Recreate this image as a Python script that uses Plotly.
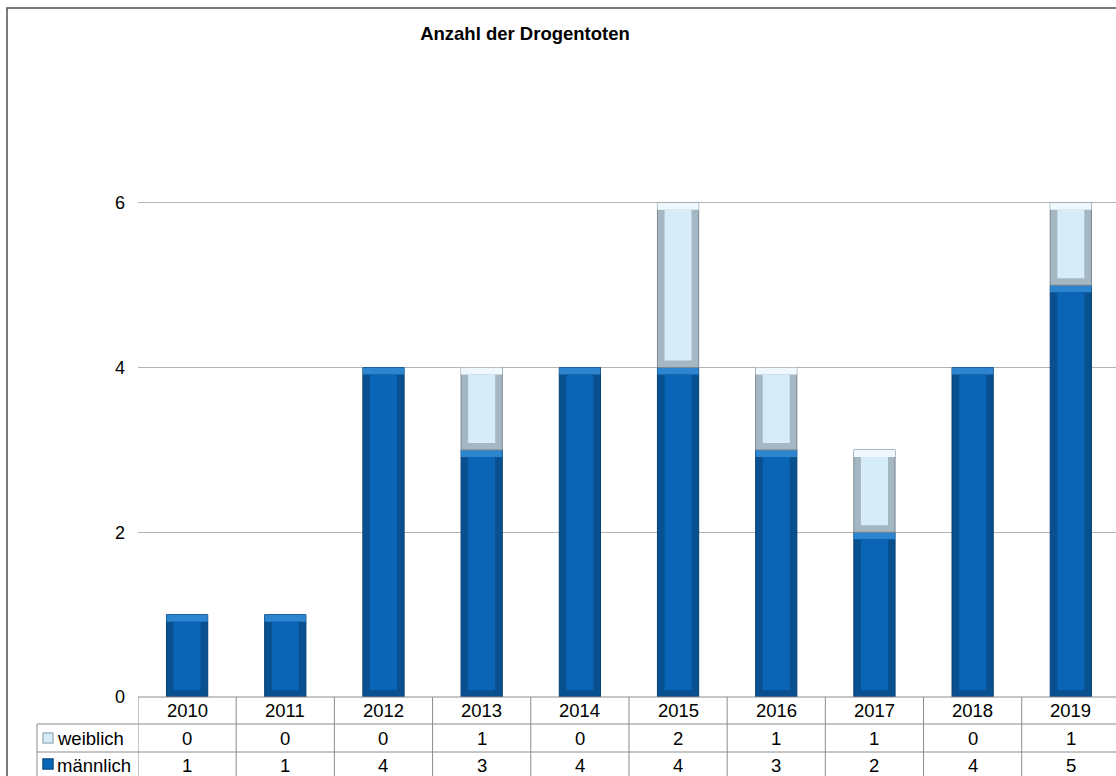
import plotly.graph_objects as go

years = [2010, 2011, 2012, 2013, 2014, 2015, 2016, 2017, 2018, 2019]
weiblich = [0, 0, 0, 1, 0, 2, 1, 1, 0, 1]
maennlich = [1, 1, 4, 3, 4, 4, 3, 2, 4, 5]
title = "Anzahl der Drogentoten"
series_names = ["weiblich", "männlich"]

W, H = 1116, 776
MB = 10              # bottom margin (paper area height = H - MB)
PH = H - MB
FONT = "Liberation Sans, Arial, sans-serif"

def px(xp):
    return xp / W

def py(yp):
    return 1 - yp / PH

BAR_W = 0.42
INNER_W = 0.275
BEV = 0.085

M_SHADE, M_HI, M_FACE = "#08508f", "#2d84cf", "#0b65b6"
F_SHADE, F_HI, F_FACE = "#a5b7c3", "#eef8fd", "#d6ecf9"

fig = go.Figure()

top_m = maennlich
top_f = [m + f for m, f in zip(maennlich, weiblich)]

def bar(y, base, width, color, line=None):
    return go.Bar(x=years, y=y, base=base, width=width,
                  marker=dict(color=color, line=line or dict(width=0)),
                  hoverinfo="skip", showlegend=False)

# männlich: shade frame, top highlight, face
fig.add_trace(bar(maennlich, [0] * len(years), BAR_W, M_SHADE, dict(color="#073f73", width=1)))
fig.add_trace(bar([BEV] * len(years), [t - BEV for t in top_m], BAR_W, M_HI))
fig.add_trace(bar([m - 2 * BEV for m in maennlich], [BEV] * len(years), INNER_W, M_FACE))

# weiblich (only where > 0)
fm = [f if f > 0 else None for f in weiblich]
fig.add_trace(bar(fm, maennlich, BAR_W, F_SHADE, dict(color="#7a8790", width=1)))
fig.add_trace(bar([BEV if f > 0 else None for f in weiblich],
                  [t - BEV for t in top_f], BAR_W, F_HI))
fig.add_trace(bar([f - 2 * BEV if f > 0 else None for f in weiblich],
                  [m + BEV for m in maennlich], INNER_W, F_FACE))

# ---- data table (drawn with shapes + annotations) ----
LINE = dict(color="#8c8c8c", width=1)
T_TOP, R1, R2, T_BOT = 697, 724, 752, 800
TAB_L, PLOT_L = 37, 138

shapes = []
shapes.append(dict(type="line", xref="paper", yref="paper", x0=px(PLOT_L), x1=1,
                   y0=py(T_TOP), y1=py(T_TOP), line=LINE))
for yy in (R1, R2):
    shapes.append(dict(type="line", xref="paper", yref="paper", x0=px(TAB_L), x1=1,
                       y0=py(yy), y1=py(yy), line=LINE))
shapes.append(dict(type="line", xref="paper", yref="paper", x0=px(TAB_L), x1=px(TAB_L),
                   y0=py(R1), y1=py(T_BOT), line=LINE))
for yr in years:
    shapes.append(dict(type="line", xref="x", yref="paper", x0=yr - 0.5, x1=yr - 0.5,
                       y0=py(T_TOP), y1=py(T_BOT), line=LINE))
for (y0, y1, c, e) in [(733, 743, F_FACE, F_SHADE), (759, 769, M_FACE, M_SHADE)]:
    shapes.append(dict(type="rect", xref="paper", yref="paper", x0=px(43), x1=px(53),
                       y0=py(y1), y1=py(y0), fillcolor=c, line=dict(color=e, width=1.5)))
shapes.append(dict(type="rect", xref="paper", yref="paper", x0=px(7), x1=1.05,
                   y0=-0.1, y1=py(8), line=dict(color="#505050", width=1.5),
                   fillcolor="rgba(0,0,0,0)", layer="above"))

annotations = []
TF = dict(family=FONT, size=18.5, color="black")
for i, yr in enumerate(years):
    annotations.append(dict(x=yr, y=py(710.5), xref="x", yref="paper", text=str(yr),
                            showarrow=False, font=TF, xanchor="center", yanchor="middle"))
    annotations.append(dict(x=yr, y=py(738), xref="x", yref="paper", text=str(weiblich[i]),
                            showarrow=False, font=TF, xanchor="center", yanchor="middle"))
    annotations.append(dict(x=yr, y=py(765), xref="x", yref="paper", text=str(maennlich[i]),
                            showarrow=False, font=TF, xanchor="center", yanchor="middle"))
for name, yy in zip(series_names, (738, 765)):
    annotations.append(dict(x=px(55), y=py(yy), xref="paper", yref="paper", text=name,
                            showarrow=False, font=TF, xanchor="left", yanchor="middle"))

fig.update_layout(
    width=W, height=H,
    margin=dict(l=0, r=0, t=0, b=MB, autoexpand=False),
    paper_bgcolor="white", plot_bgcolor="white",
    barmode="overlay",
    showlegend=False,
    font=dict(family=FONT, size=18, color="black"),
    title=dict(text="<b>" + title + "</b>", xref="container", yref="container",
               x=525 / W, y=1 - 34 / H, xanchor="center", yanchor="middle",
               font=dict(family=FONT, size=18.5, color="black")),
    xaxis=dict(domain=[px(PLOT_L), 1], range=[2009.5, 2019.46], automargin=False,
               showticklabels=False, showgrid=False, zeroline=False, showline=False,
               ticks=""),
    yaxis=dict(domain=[py(T_TOP), py(104)], range=[0, 7.2], automargin=False,
               tickvals=[0, 2, 4, 6], showgrid=True, gridcolor="#b4b4b4", gridwidth=1,
               zeroline=False, showline=False, ticks="", ticklabelstandoff=12,
               tickfont=dict(family=FONT, size=18, color="black")),
    shapes=shapes,
    annotations=annotations,
)

fig.write_html("out.html", config={"displayModeBar": False},
               post_script="document.body.style.margin='0px';")
